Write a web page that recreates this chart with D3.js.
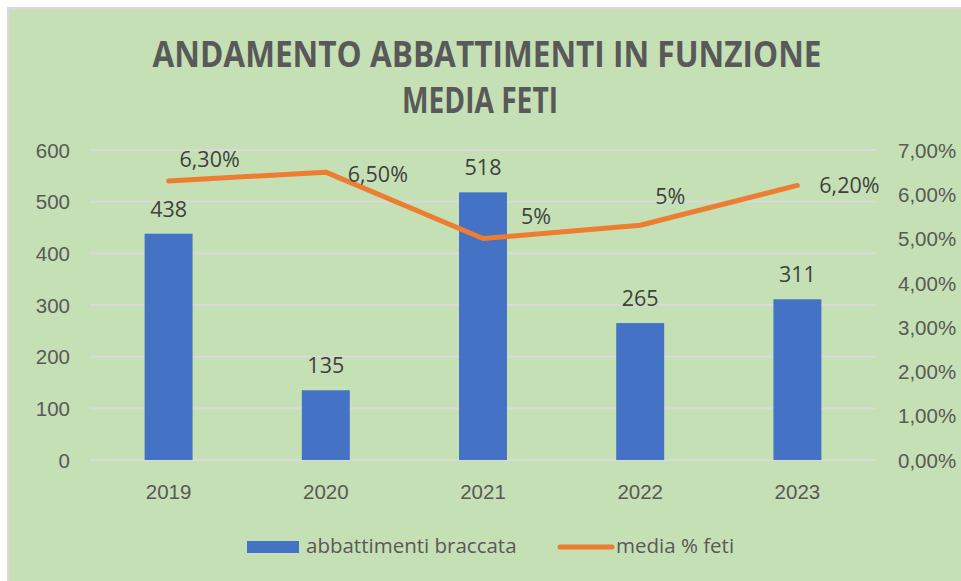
<!DOCTYPE html>
<html>
<head>
<meta charset="utf-8">
<script src="https://cdn.jsdelivr.net/npm/d3@7"></script>
<style>
  html, body { margin: 0; padding: 0; background: #ffffff; }
  svg { display: block; font-family: 'Open Sans', 'Noto Sans', sans-serif; }
</style>
</head>
<body>
<svg id="chart" width="961" height="581"></svg>
<script>
// data
const years = ['2019', '2020', '2021', '2022', '2023'];
const abbattimenti = [438, 135, 518, 265, 311];
const mediaFeti = [6.3, 6.5, 5.0, 5.3, 6.2];
const mediaFetiLabels = ['6,30%', '6,50%', '5%', '5%', '6,20%'];
const leftTicks = [0, 100, 200, 300, 400, 500, 600];
const rightTicks = [0, 1, 2, 3, 4, 5, 6, 7];
const titleLines = ['ANDAMENTO ABBATTIMENTI IN FUNZIONE', 'MEDIA FETI'];
const seriesNames = ['abbattimenti braccata', 'media % feti'];

const W = 961, H = 581;
const plot = { left: 90, right: 876, top: 150, bottom: 460 };
const blue = '#4472c4', orange = '#ed7d31';
const axisColor = '#595959', labelColor = '#404040';

const svg = d3.select('#chart');

// frame + background
svg.append('rect').attr('x', 7).attr('y', 7).attr('width', W).attr('height', H).attr('fill', '#d9d9d9');
svg.append('rect').attr('x', 9.5).attr('y', 9.5).attr('width', W).attr('height', H).attr('fill', '#c5e0b4');

// title
const titleWidths = [669, 156];
const titleCenters = [487, 480];
svg.append('g').selectAll('text')
    .data(titleLines)
    .enter()
    .append('text')
    .attr('x', (d, i) => titleCenters[i])
    .attr('y', (d, i) => 67 + i * 46)
    .attr('text-anchor', 'middle')
    .attr('font-size', 35)
    .attr('font-weight', 700)
    .attr('fill', axisColor)
    .attr('textLength', (d, i) => titleWidths[i])
    .attr('lengthAdjust', 'spacingAndGlyphs')
    .text(d => d);

const x = d3.scaleBand()
    .domain(years)
    .range([plot.left, plot.right])
    .paddingInner(0.695)
    .paddingOuter(0.3475);

const yLeft = d3.scaleLinear().domain([0, 600]).range([plot.bottom, plot.top]);
const yRight = d3.scaleLinear().domain([0, 7]).range([plot.bottom, plot.top]);

// gridlines
svg.append('g').selectAll('line')
    .data(leftTicks)
    .enter()
    .append('line')
    .attr('x1', plot.left).attr('x2', plot.right)
    .attr('y1', d => yLeft(d)).attr('y2', d => yLeft(d))
    .attr('stroke', '#d9d9d9')
    .attr('stroke-width', 2);

// left axis
const leftAxis = svg.append('g')
    .attr('transform', `translate(${plot.left - 20},0)`)
    .call(d3.axisLeft(yLeft).tickValues(leftTicks).tickSize(0).tickPadding(0));
leftAxis.select('.domain').remove();
leftAxis.selectAll('text')
    .attr('font-size', 20.5)
    .attr('font-family', null)
    .attr('fill', axisColor)
    .attr('dy', '0.35em');

// right axis
const rightAxis = svg.append('g')
    .attr('transform', `translate(${plot.right + 22},0)`)
    .call(d3.axisRight(yRight).tickValues(rightTicks).tickSize(0).tickPadding(0)
        .tickFormat(d => d3.format('.2f')(d).replace('.', ',') + '%'));
rightAxis.select('.domain').remove();
rightAxis.selectAll('text')
    .attr('font-size', 20.5)
    .attr('font-family', null)
    .attr('fill', axisColor)
    .attr('dy', '0.35em');

// category axis
const bottomAxis = svg.append('g')
    .attr('transform', `translate(0,${plot.bottom})`)
    .call(d3.axisBottom(x).tickSize(0).tickPadding(0));
bottomAxis.select('.domain').remove();
bottomAxis.selectAll('text')
    .attr('font-size', 20.5)
    .attr('font-family', null)
    .attr('fill', axisColor)
    .attr('y', 39)
    .attr('dy', 0);

// bars
svg.append('g').selectAll('rect')
    .data(abbattimenti)
    .enter()
    .append('rect')
    .attr('x', (d, i) => x(years[i]))
    .attr('y', d => yLeft(d))
    .attr('width', x.bandwidth())
    .attr('height', d => yLeft(0) - yLeft(d))
    .attr('fill', blue);

svg.append('g').selectAll('text')
    .data(abbattimenti)
    .enter()
    .append('text')
    .attr('x', (d, i) => x(years[i]) + x.bandwidth() / 2)
    .attr('y', d => yLeft(d) - 17)
    .attr('text-anchor', 'middle')
    .attr('font-size', 21.5)
    .attr('fill', labelColor)
    .text(d => d);

// line
const cx = i => x(years[i]) + x.bandwidth() / 2;
const line = d3.line()
    .x((d, i) => cx(i))
    .y(d => yRight(d));

svg.append('path')
    .datum(mediaFeti)
    .attr('d', line)
    .attr('fill', 'none')
    .attr('stroke', orange)
    .attr('stroke-width', 5)
    .attr('stroke-linejoin', 'round')
    .attr('stroke-linecap', 'round');

// line labels were hand-placed in the original, keep their offsets
const lineLabelOffsets = [[41, -22], [52, 2], [53, -22], [30, -29], [52, 0]];
svg.append('g').selectAll('text')
    .data(mediaFeti)
    .enter()
    .append('text')
    .attr('x', (d, i) => cx(i) + lineLabelOffsets[i][0])
    .attr('y', (d, i) => yRight(d) + lineLabelOffsets[i][1])
    .attr('dy', '0.35em')
    .attr('text-anchor', 'middle')
    .attr('font-size', 21.5)
    .attr('fill', labelColor)
    .text((d, i) => mediaFetiLabels[i]);

// legend
const legend = svg.append('g');
legend.append('rect')
    .attr('x', 247).attr('y', 541)
    .attr('width', 52).attr('height', 12)
    .attr('fill', blue);
legend.append('text')
    .attr('x', 306).attr('y', 553)
    .attr('font-size', 20.5)
    .attr('fill', axisColor)
    .text(seriesNames[0]);
legend.append('line')
    .attr('x1', 560).attr('x2', 612)
    .attr('y1', 547).attr('y2', 547)
    .attr('stroke', orange)
    .attr('stroke-width', 5)
    .attr('stroke-linecap', 'round');
legend.append('text')
    .attr('x', 616).attr('y', 553)
    .attr('font-size', 20.5)
    .attr('fill', axisColor)
    .text(seriesNames[1]);
</script>
</body>
</html>
